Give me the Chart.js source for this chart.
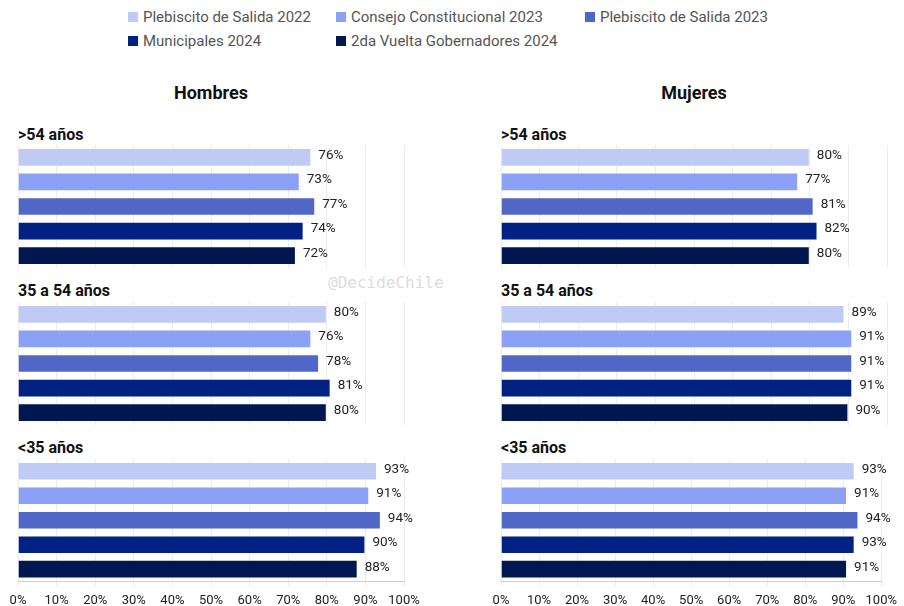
<!DOCTYPE html>
<html>
<head>
<meta charset="utf-8">
<script src="https://cdn.jsdelivr.net/npm/chart.js@4.4.1/dist/chart.umd.min.js"></script>
<style>
  body { margin: 0; width: 904px; height: 606px; background: #fff; position: relative; overflow: hidden; font-family: Roboto, sans-serif; }
  .abs { position: absolute; }
  .legend-item { position: absolute; font-size: 15px; color: #555; white-space: nowrap; line-height: 18px; }
  .legend-item span { display: inline-block; width: 10px; height: 10px; margin-right: 5px; vertical-align: 0px; }
  .panel-title { position: absolute; font-weight: 700; font-size: 18px; color: #111; width: 386px; text-align: center; }
  .group-title { position: absolute; font-weight: 700; font-size: 16px; color: #111; }
  .wm { position: absolute; font-family: "DejaVu Sans Mono", monospace; font-size: 16px; color: #dcdcdc; }
  canvas { display: block; }
</style>
</head>
<body>
<div id="legend"></div>
<div class="panel-title" style="left:18px; top:82px;">Hombres</div>
<div class="panel-title" style="left:501px; top:82px;">Mujeres</div>
<div class="wm" style="left:328px; top:273px;">@DecideChile</div>

<script>
const series = ['Plebiscito de Salida 2022', 'Consejo Constitucional 2023', 'Plebiscito de Salida 2023', 'Municipales 2024', '2da Vuelta Gobernadores 2024'];
const colors = ['#c0cbf5', '#8aa1f5', '#5067c8', '#012282', '#01174f'];
const groups = ['>54 años', '35 a 54 años', '<35 años'];

// values per group, in series order
const hombres = [
  [76, 73, 77, 74, 72],
  [80, 76, 78, 81, 80],
  [93, 91, 94, 90, 88]
];
const mujeres = [
  [80, 77, 81, 82, 80],
  [89, 91, 91, 91, 90],
  [93, 91, 94, 93, 91]
];

// legend
const legendPos = [[128, 8], [336, 8], [585, 8], [128, 32], [336, 32]];
const legend = document.getElementById('legend');
series.forEach((s, i) => {
  const d = document.createElement('div');
  d.className = 'legend-item';
  d.style.left = legendPos[i][0] + 'px';
  d.style.top = legendPos[i][1] + 'px';
  d.innerHTML = '<span style="background:' + colors[i] + '"></span>' + s;
  legend.appendChild(d);
});

const valueLabels = {
  id: 'valueLabels',
  afterDatasetsDraw(chart) {
    const ctx = chart.ctx;
    ctx.save();
    ctx.font = '13.5px Roboto';
    ctx.fillStyle = '#222';
    ctx.textBaseline = 'middle';
    chart.data.datasets.forEach((ds, i) => {
      chart.getDatasetMeta(i).data.forEach((bar, j) => {
        ctx.fillText(ds.data[j] + '%', bar.x + 7, bar.y - 2);
      });
    });
    ctx.restore();
  }
};

const groupTops = [145, 302, 459];
const titleTops = [125, 281, 438];

function makeChart(left, width, padLeft, padRight, top, values, bottom) {
  const canvas = document.createElement('canvas');
  const h = bottom ? 157 : 123;
  canvas.width = width;
  canvas.height = h;
  canvas.className = 'abs';
  canvas.style.left = left + 'px';
  canvas.style.top = top + 'px';
  canvas.style.width = width + 'px';
  canvas.style.height = h + 'px';
  document.body.appendChild(canvas);

  new Chart(canvas.getContext('2d'), {
    type: 'bar',
    data: {
      labels: series,
      datasets: [{
        data: values,
        backgroundColor: colors,
        borderColor: 'rgba(255,255,255,0.2)',
        borderWidth: 1,
        categoryPercentage: 1,
        barPercentage: 0.76
      }]
    },
    options: {
      indexAxis: 'y',
      responsive: false,
      animation: false,
      layout: { padding: { left: padLeft, right: padRight, top: 0, bottom: 0 } },
      scales: {
        x: {
          min: 0,
          max: 100,
          ticks: {
            display: bottom,
            stepSize: 10,
            padding: 7,
            color: '#222',
            font: { family: 'Roboto', size: 13 },
            callback: v => v + '%'
          },
          grid: { color: '#ececec', drawTicks: bottom, tickLength: 5 },
          border: { display: bottom, color: '#cfcfcf' }
        },
        y: { display: false }
      },
      plugins: { legend: { display: false }, tooltip: { enabled: false } }
    },
    plugins: [valueLabels]
  });
}

[[hombres, 0, 450, 18, 46, 18], [mujeres, 483, 421, 18, 17, 501]].forEach(([data, left, width, pl, pr, tx]) => {
  data.forEach((vals, g) => {
    makeChart(left, width, pl, pr, groupTops[g], vals, g === 2);
    const t = document.createElement('div');
    t.className = 'group-title';
    t.style.left = tx + 'px';
    t.style.top = titleTops[g] + 'px';
    t.textContent = groups[g];
    document.body.appendChild(t);
  });
});
</script>
</body>
</html>
